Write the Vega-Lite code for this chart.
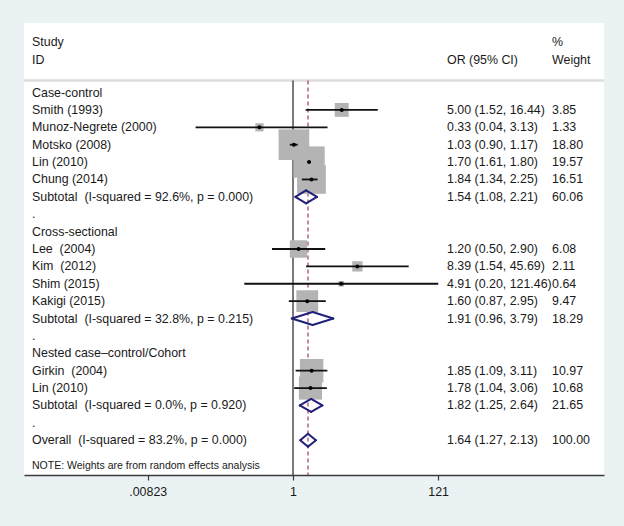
{
  "$schema": "https://vega.github.io/schema/vega-lite/v6.json",
  "width": 580,
  "height": 452,
  "autosize": {"type": "none"},
  "padding": {"left": 24, "top": 23, "right": 20, "bottom": 51},
  "background": "#EAF2F3",
  "config": {"view": {"stroke": null, "fill": "#FFFFFF"}, "font": "Liberation Sans"},
  "datasets": {
    "rows": [
      {"row": 0, "kind": "group", "label": "Case-control"},
      {"row": 1, "kind": "study", "label": "Smith (1993)", "or": 5.00, "lo": 1.52, "hi": 16.44, "w": 3.85, "ci": "5.00 (1.52, 16.44)"},
      {"row": 2, "kind": "study", "label": "Munoz-Negrete (2000)", "or": 0.33, "lo": 0.04, "hi": 3.13, "w": 1.33, "ci": "0.33 (0.04, 3.13)"},
      {"row": 3, "kind": "study", "label": "Motsko (2008)", "or": 1.03, "lo": 0.90, "hi": 1.17, "w": 18.80, "ci": "1.03 (0.90, 1.17)"},
      {"row": 4, "kind": "study", "label": "Lin (2010)", "or": 1.70, "lo": 1.61, "hi": 1.80, "w": 19.57, "ci": "1.70 (1.61, 1.80)"},
      {"row": 5, "kind": "study", "label": "Chung (2014)", "or": 1.84, "lo": 1.34, "hi": 2.25, "w": 16.51, "ci": "1.84 (1.34, 2.25)"},
      {"row": 6, "kind": "sub", "label": "Subtotal\u00a0 (I-squared = 92.6%, p = 0.000)", "or": 1.54, "lo": 1.08, "hi": 2.21, "w": 60.06, "ci": "1.54 (1.08, 2.21)"},
      {"row": 7, "kind": "dot", "label": "."},
      {"row": 8, "kind": "group", "label": "Cross-sectional"},
      {"row": 9, "kind": "study", "label": "Lee\u00a0 (2004)", "or": 1.20, "lo": 0.50, "hi": 2.90, "w": 6.08, "ci": "1.20 (0.50, 2.90)"},
      {"row": 10, "kind": "study", "label": "Kim\u00a0 (2012)", "or": 8.39, "lo": 1.54, "hi": 45.69, "w": 2.11, "ci": "8.39 (1.54, 45.69)"},
      {"row": 11, "kind": "study", "label": "Shim (2015)", "or": 4.91, "lo": 0.20, "hi": 121.46, "w": 0.64, "ci": "4.91 (0.20, 121.46)"},
      {"row": 12, "kind": "study", "label": "Kakigi (2015)", "or": 1.60, "lo": 0.87, "hi": 2.95, "w": 9.47, "ci": "1.60 (0.87, 2.95)"},
      {"row": 13, "kind": "sub", "label": "Subtotal\u00a0 (I-squared = 32.8%, p = 0.215)", "or": 1.91, "lo": 0.96, "hi": 3.79, "w": 18.29, "ci": "1.91 (0.96, 3.79)"},
      {"row": 14, "kind": "dot", "label": "."},
      {"row": 15, "kind": "group", "label": "Nested case–control/Cohort"},
      {"row": 16, "kind": "study", "label": "Girkin\u00a0 (2004)", "or": 1.85, "lo": 1.09, "hi": 3.11, "w": 10.97, "ci": "1.85 (1.09, 3.11)"},
      {"row": 17, "kind": "study", "label": "Lin (2010)", "or": 1.78, "lo": 1.04, "hi": 3.06, "w": 10.68, "ci": "1.78 (1.04, 3.06)"},
      {"row": 18, "kind": "sub", "label": "Subtotal\u00a0 (I-squared = 0.0%, p = 0.920)", "or": 1.82, "lo": 1.25, "hi": 2.64, "w": 21.65, "ci": "1.82 (1.25, 2.64)"},
      {"row": 19, "kind": "dot", "label": "."},
      {"row": 20, "kind": "overall", "label": "Overall\u00a0 (I-squared = 83.2%, p = 0.000)", "or": 1.64, "lo": 1.27, "hi": 2.13, "w": 100.00, "ci": "1.64 (1.27, 2.13)"},
      {"row": 21.5, "kind": "note", "label": "NOTE: Weights are from random effects analysis"}
    ]
  },
  "data": {"name": "rows"},
  "layer": [
    {
      "data": {"values": [{}]},
      "mark": {"type": "rule", "color": "#DCDCDC", "strokeWidth": 2.5},
      "encoding": {
        "y": {"datum": -0.69, "type": "quantitative", "scale": {"domain": [-4, 22], "reverse": true, "nice": false, "zero": false}, "axis": null}
      }
    },
    {
      "data": {"values": [{}]},
      "mark": {"type": "rule", "color": "#333333", "strokeWidth": 1.3},
      "encoding": {
        "x": {"datum": 1, "type": "quantitative", "scale": {"type": "log", "domain": [0.0001381, 28970], "nice": false},
          "axis": {"values": [0.00823, 1, 121], "labelExpr": "datum.value < 0.01 ? '.00823' : datum.value < 2 ? '1' : '121'", "title": null, "grid": false, "domainColor": "#3a3a3a", "domainWidth": 1.3, "tickColor": "#3a3a3a", "tickSize": 5, "tickWidth": 1.2, "labelFontSize": 12.4, "labelColor": "#1a1a1a", "labelPadding": 5, "labelFont": "Liberation Sans", "labelFlush": false, "labelOverlap": false}},
        "y": {"datum": -0.69, "type": "quantitative", "axis": null},
        "y2": {"datum": 22}
      }
    },
    {
      "transform": [{"filter": "datum.kind == 'overall'"}],
      "mark": {"type": "rule", "color": "#9C2C48", "strokeWidth": 1.1, "strokeDash": [4, 3]},
      "encoding": {
        "x": {"field": "or", "type": "quantitative", "title": null},
        "y": {"datum": -0.69, "type": "quantitative", "axis": null},
        "y2": {"datum": 22}
      }
    },
    {
      "transform": [{"filter": "datum.kind == 'study'"}],
      "mark": {"type": "point", "shape": "square", "filled": true, "color": "#B4B4B4", "opacity": 1},
      "encoding": {
        "x": {"field": "or", "type": "quantitative", "title": null},
        "y": {"field": "row", "type": "quantitative", "axis": null},
        "size": {"field": "w", "type": "quantitative", "scale": {"domain": [0, 20], "range": [0, 1002]}, "legend": null}
      }
    },
    {
      "transform": [{"filter": "datum.kind == 'study'"}],
      "mark": {"type": "rule", "color": "#111111", "strokeWidth": 1.8},
      "encoding": {
        "x": {"field": "lo", "type": "quantitative", "title": null},
        "x2": {"field": "hi"},
        "y": {"field": "row", "type": "quantitative", "axis": null}
      }
    },
    {
      "transform": [{"filter": "datum.kind == 'study'"}],
      "mark": {"type": "point", "shape": "circle", "filled": true, "color": "#000000", "size": 16, "opacity": 1},
      "encoding": {
        "x": {"field": "or", "type": "quantitative", "title": null},
        "y": {"field": "row", "type": "quantitative", "axis": null}
      }
    },
    {
      "transform": [{"filter": "datum.kind == 'sub' || datum.kind == 'overall'"}],
      "mark": {"type": "rule", "color": "#20207A", "strokeWidth": 2, "strokeCap": "round", "y2Offset": -6.5},
      "encoding": {
        "x": {"field": "lo", "type": "quantitative", "title": null},
        "x2": {"field": "or"},
        "y": {"field": "row", "type": "quantitative", "axis": null},
        "y2": {"field": "row"}
      }
    },
    {
      "transform": [{"filter": "datum.kind == 'sub' || datum.kind == 'overall'"}],
      "mark": {"type": "rule", "color": "#20207A", "strokeWidth": 2, "strokeCap": "round", "yOffset": -6.5},
      "encoding": {
        "x": {"field": "or", "type": "quantitative", "title": null},
        "x2": {"field": "hi"},
        "y": {"field": "row", "type": "quantitative", "axis": null},
        "y2": {"field": "row"}
      }
    },
    {
      "transform": [{"filter": "datum.kind == 'sub' || datum.kind == 'overall'"}],
      "mark": {"type": "rule", "color": "#20207A", "strokeWidth": 2, "strokeCap": "round", "y2Offset": 6.5},
      "encoding": {
        "x": {"field": "lo", "type": "quantitative", "title": null},
        "x2": {"field": "or"},
        "y": {"field": "row", "type": "quantitative", "axis": null},
        "y2": {"field": "row"}
      }
    },
    {
      "transform": [{"filter": "datum.kind == 'sub' || datum.kind == 'overall'"}],
      "mark": {"type": "rule", "color": "#20207A", "strokeWidth": 2, "strokeCap": "round", "yOffset": 6.5},
      "encoding": {
        "x": {"field": "or", "type": "quantitative", "title": null},
        "x2": {"field": "hi"},
        "y": {"field": "row", "type": "quantitative", "axis": null},
        "y2": {"field": "row"}
      }
    },
    {
      "transform": [{"filter": "datum.kind != 'note'"}],
      "mark": {"type": "text", "align": "left", "baseline": "middle", "fontSize": 12.4, "color": "#1a1a1a"},
      "encoding": {
        "x": {"datum": 0.0001801, "type": "quantitative", "title": null},
        "y": {"field": "row", "type": "quantitative", "axis": null},
        "text": {"field": "label"}
      }
    },
    {
      "transform": [{"filter": "datum.kind == 'note'"}],
      "mark": {"type": "text", "align": "left", "baseline": "middle", "fontSize": 10.5, "color": "#1a1a1a"},
      "encoding": {
        "x": {"datum": 0.0001801, "type": "quantitative", "title": null},
        "y": {"field": "row", "type": "quantitative", "axis": null},
        "text": {"field": "label"}
      }
    },
    {
      "transform": [{"filter": "isValid(datum.ci)"}],
      "mark": {"type": "text", "align": "left", "baseline": "middle", "fontSize": 12.4, "color": "#1a1a1a"},
      "encoding": {
        "x": {"datum": 162, "type": "quantitative", "title": null},
        "y": {"field": "row", "type": "quantitative", "axis": null},
        "text": {"field": "ci"}
      }
    },
    {
      "transform": [{"filter": "isValid(datum.w)"}],
      "mark": {"type": "text", "align": "left", "baseline": "middle", "fontSize": 12.4, "color": "#1a1a1a"},
      "encoding": {
        "x": {"datum": 5206, "type": "quantitative", "title": null},
        "y": {"field": "row", "type": "quantitative", "axis": null},
        "text": {"field": "w", "type": "quantitative", "format": ".2f"}
      }
    },
    {
      "data": {"values": [{}]},
      "mark": {"type": "text", "align": "left", "baseline": "middle", "fontSize": 12.4, "color": "#1a1a1a", "text": "Study"},
      "encoding": {
        "x": {"datum": 0.0001801, "type": "quantitative", "title": null},
        "y": {"datum": -2.88, "type": "quantitative", "axis": null}
      }
    },
    {
      "data": {"values": [{}]},
      "mark": {"type": "text", "align": "left", "baseline": "middle", "fontSize": 12.4, "color": "#1a1a1a", "text": "ID"},
      "encoding": {
        "x": {"datum": 0.0001801, "type": "quantitative", "title": null},
        "y": {"datum": -1.9, "type": "quantitative", "axis": null}
      }
    },
    {
      "data": {"values": [{}]},
      "mark": {"type": "text", "align": "left", "baseline": "middle", "fontSize": 12.4, "color": "#1a1a1a", "text": "OR (95% CI)"},
      "encoding": {
        "x": {"datum": 162, "type": "quantitative", "title": null},
        "y": {"datum": -1.9, "type": "quantitative", "axis": null}
      }
    },
    {
      "data": {"values": [{}]},
      "mark": {"type": "text", "align": "left", "baseline": "middle", "fontSize": 12.4, "color": "#1a1a1a", "text": "%"},
      "encoding": {
        "x": {"datum": 5206, "type": "quantitative", "title": null},
        "y": {"datum": -2.88, "type": "quantitative", "axis": null}
      }
    },
    {
      "data": {"values": [{}]},
      "mark": {"type": "text", "align": "left", "baseline": "middle", "fontSize": 12.4, "color": "#1a1a1a", "text": "Weight"},
      "encoding": {
        "x": {"datum": 5206, "type": "quantitative", "title": null},
        "y": {"datum": -1.9, "type": "quantitative", "axis": null}
      }
    }
  ]
}
